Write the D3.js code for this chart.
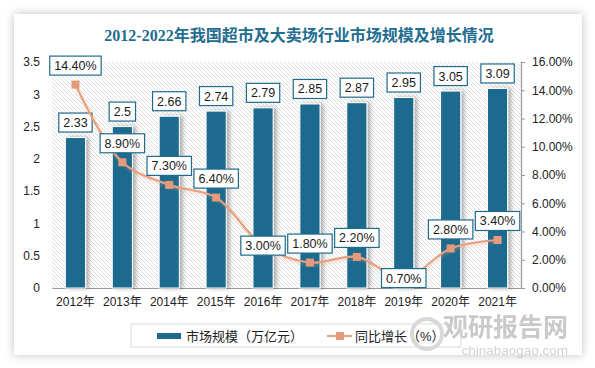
<!DOCTYPE html>
<html>
<head>
<meta charset="utf-8">
<script src="https://cdn.jsdelivr.net/npm/d3@7"></script>
<style>
  body { margin: 0; background: #fff; }
  svg text { font-family: "Liberation Sans", "Noto Sans CJK SC", sans-serif; }
</style>
</head>
<body>
<div class="canvas"></div>
<script>
// chart data
const years = ['2012年', '2013年', '2014年', '2015年', '2016年', '2017年', '2018年', '2019年', '2020年', '2021年'];
const marketSize = [2.33, 2.5, 2.66, 2.74, 2.79, 2.85, 2.87, 2.95, 3.05, 3.09];
const growth = [14.4, 8.9, 7.3, 6.4, 3.0, 1.8, 2.2, 0.7, 2.8, 3.4];
const leftTicks = [0, 0.5, 1, 1.5, 2, 2.5, 3, 3.5];
const rightTicks = [0, 2, 4, 6, 8, 10, 12, 14, 16];
// where each growth label sits relative to its point
const growthLabelPos = ['top', 'top', 'top', 'top', 'center', 'top', 'top', 'center', 'top', 'top'];

const W = 595, H = 368;
const blue = '#1f6b8e';
const orange = '#e8a07f';
const margin = {top: 62, right: 74, bottom: 80, left: 52};
const plotW = W - margin.left - margin.right;
const plotH = H - margin.top - margin.bottom;

const svg = d3.select('.canvas').append('svg')
    .attr('width', W)
    .attr('height', H);

const defs = svg.append('defs');

// card shadow
const cardShadow = defs.append('filter').attr('id', 'cardShadow')
    .attr('x', '-10%').attr('y', '-10%').attr('width', '120%').attr('height', '120%');
cardShadow.append('feDropShadow')
    .attr('dx', 0).attr('dy', 0).attr('stdDeviation', 5)
    .attr('flood-color', '#000').attr('flood-opacity', 0.25);

// bar shadow
const barShadow = defs.append('filter').attr('id', 'barShadow')
    .attr('x', '-30%').attr('y', '-10%').attr('width', '170%').attr('height', '120%');
barShadow.append('feDropShadow')
    .attr('dx', 3).attr('dy', 0).attr('stdDeviation', 2)
    .attr('flood-color', '#000').attr('flood-opacity', 0.3);

const lineShadow = defs.append('filter').attr('id', 'lineShadow')
    .attr('x', '-10%').attr('y', '-10%').attr('width', '120%').attr('height', '130%');
lineShadow.append('feDropShadow')
    .attr('dx', 1).attr('dy', 2).attr('stdDeviation', 1.5)
    .attr('flood-color', '#e8a07f').attr('flood-opacity', 0.35);

// diagonal hatch for plot background
const hatch = defs.append('pattern').attr('id', 'hatch')
    .attr('patternUnits', 'userSpaceOnUse')
    .attr('width', 4).attr('height', 4);
hatch.append('rect').attr('width', 4).attr('height', 4).attr('fill', '#fff');
hatch.append('path')
    .attr('d', 'M-1,-1 L5,5 M-1,3 L1,5 M3,-1 L5,1')
    .attr('stroke', '#d4d4d4').attr('stroke-width', 0.8);

// card
svg.append('rect')
    .attr('x', 14).attr('y', 14)
    .attr('width', 568).attr('height', 341)
    .attr('fill', '#fff')
    .attr('filter', 'url(#cardShadow)');

// title
svg.append('text')
    .attr('x', 299).attr('y', 41)
    .attr('text-anchor', 'middle')
    .attr('fill', '#236d8f')
    .attr('font-size', 16)
    .attr('font-weight', 'bold')
    .style('font-family', '"Liberation Serif", "Noto Sans CJK SC", serif')
    .text('2012-2022年我国超市及大卖场行业市场规模及增长情况');

const graph = svg.append('g')
    .attr('transform', `translate(${margin.left}, ${margin.top})`);

// scales
const x = d3.scaleBand()
    .domain(years)
    .range([0, plotW])
    .paddingInner(0.57)
    .paddingOuter(0.285);

const xc = d3.scaleBand().domain(years).range([0, plotW]);

const y = d3.scaleLinear().domain([0, 3.5]).range([plotH, 0]);
const y2 = d3.scaleLinear().domain([0, 16]).range([plotH, 0]);

graph.append('rect')
    .attr('width', plotW).attr('height', plotH)
    .attr('fill', 'url(#hatch)');

// axes
const xAxis = d3.axisBottom(xc).tickSize(0).tickPadding(9);
const yAxis = d3.axisLeft(y).tickValues(leftTicks).tickSize(0).tickPadding(12)
    .tickFormat(d => d);
const yAxis2 = d3.axisRight(y2).tickValues(rightTicks).tickSize(4).tickPadding(7)
    .tickFormat(d => d.toFixed(2) + '%');

const xAxisGroup = graph.append('g')
    .attr('transform', `translate(0, ${plotH})`)
    .call(xAxis);
xAxisGroup.select('.domain').attr('stroke', '#999').attr('stroke-width', 1.2);

const yAxisGroup = graph.append('g').call(yAxis);
yAxisGroup.select('.domain').remove();

const yAxisGroup2 = graph.append('g')
    .attr('transform', `translate(${plotW}, 0)`)
    .call(yAxis2);
yAxisGroup2.select('.domain').attr('stroke', '#999').attr('stroke-width', 1.2);
yAxisGroup2.selectAll('line').attr('stroke', '#999');

graph.selectAll('.tick text')
    .attr('fill', '#222')
    .attr('font-size', 12);

// bars
graph.selectAll('rect.bar')
    .data(marketSize)
    .enter()
    .append('rect')
    .attr('class', 'bar')
    .attr('x', (d, i) => x(years[i]))
    .attr('y', d => y(d))
    .attr('width', x.bandwidth())
    .attr('height', d => plotH - y(d))
    .attr('fill', blue)
    .attr('stroke', '#fff')
    .attr('stroke-width', 1)
    .attr('filter', 'url(#barShadow)');

// label box helper
function labelBox(g, cx, cy, txt) {
    const t = g.append('text')
        .attr('x', cx).attr('y', cy + 4.5)
        .attr('text-anchor', 'middle')
        .attr('font-size', 12.5)
        .attr('fill', '#1a1a1a')
        .text(txt);
    const w = t.node().getComputedTextLength() + 9;
    g.insert('rect', 'text')
        .attr('x', cx - w / 2).attr('y', cy - 9.5)
        .attr('width', w).attr('height', 19)
        .attr('fill', '#fff')
        .attr('stroke', blue)
        .attr('stroke-width', 1.2);
}

// bar labels
marketSize.forEach((d, i) => {
    const g = graph.append('g');
    labelBox(g, xc(years[i]) + xc.bandwidth() / 2, y(d) - 15, d);
});

// growth line
const cx = (d, i) => xc(years[i]) + xc.bandwidth() / 2;
const line = d3.line()
    .x(cx)
    .y(d => y2(d))
    .curve(d3.curveCatmullRom.alpha(0.5));

graph.append('path')
    .datum(growth)
    .attr('d', line)
    .attr('fill', 'none')
    .attr('stroke', orange)
    .attr('stroke-width', 2.2)
    .attr('filter', 'url(#lineShadow)');

graph.selectAll('rect.marker')
    .data(growth)
    .enter()
    .append('rect')
    .attr('class', 'marker')
    .attr('x', (d, i) => cx(d, i) - 4)
    .attr('y', d => y2(d) - 4)
    .attr('width', 8).attr('height', 8)
    .attr('fill', '#e59b7b');

// growth labels
growth.forEach((d, i) => {
    const g = graph.append('g');
    const off = growthLabelPos[i] === 'top' ? -19 : 0;
    labelBox(g, cx(d, i), y2(d) + off, d.toFixed(2) + '%');
});

// watermark
const wm = svg.append('g').attr('opacity', 0.45);
wm.append('circle').attr('cx', 427).attr('cy', 334).attr('r', 15)
    .attr('fill', 'none').attr('stroke', '#aaa').attr('stroke-width', 4);
wm.append('text')
    .attr('x', 568).attr('y', 336)
    .attr('text-anchor', 'end')
    .attr('font-size', 25)
    .attr('font-weight', 'bold')
    .attr('fill', '#888')
    .text('观研报告网');
wm.append('text')
    .attr('x', 568).attr('y', 355)
    .attr('text-anchor', 'end')
    .attr('font-size', 13.5)
    .attr('fill', '#999')
    .text('chinabaogao.com');

// legend
const legend = svg.append('g');
legend.append('rect')
    .attr('x', 131).attr('y', 324)
    .attr('width', 330).attr('height', 23)
    .attr('fill', 'none')
    .attr('stroke', '#d9d9d9');
legend.append('rect')
    .attr('x', 157).attr('y', 333)
    .attr('width', 24).attr('height', 6)
    .attr('fill', blue);
legend.append('text')
    .attr('x', 186).attr('y', 341)
    .attr('font-size', 13)
    .attr('fill', '#222')
    .text('市场规模（万亿元）');
legend.append('line')
    .attr('x1', 327).attr('x2', 352)
    .attr('y1', 336).attr('y2', 336)
    .attr('stroke', orange).attr('stroke-width', 2.2);
legend.append('rect')
    .attr('x', 336).attr('y', 332)
    .attr('width', 8).attr('height', 8)
    .attr('fill', '#e59b7b');
legend.append('text')
    .attr('x', 355).attr('y', 341)
    .attr('font-size', 13)
    .attr('fill', '#222')
    .text('同比增长（%）');
</script>
</body>
</html>
